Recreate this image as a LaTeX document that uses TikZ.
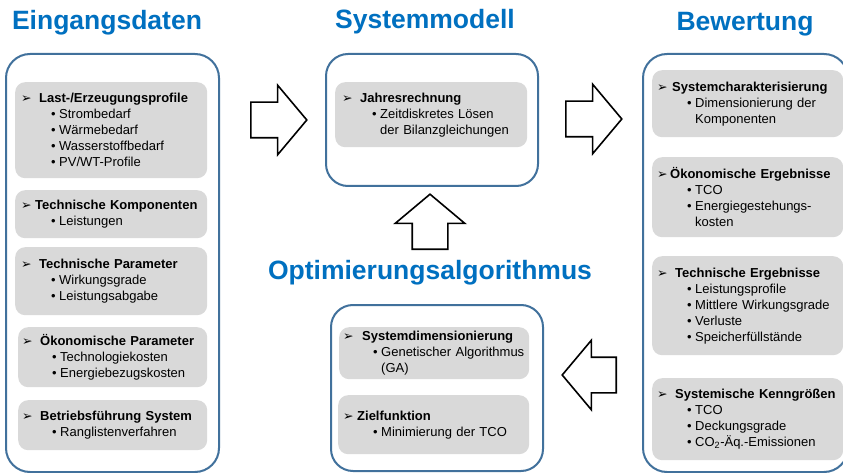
\documentclass[tikz,border=0pt]{standalone}
\usepackage{fontspec}
\setmainfont{Liberation Sans}
\newfontfamily\symfont{DejaVu Sans}
\usetikzlibrary{shapes.arrows}

\definecolor{titleblue}{RGB}{0,112,192}
\definecolor{frameblue}{RGB}{65,113,156}
\definecolor{boxgray}{RGB}{217,217,217}

% header line with arrow mark, bullet line, continued line
\newcommand{\hd}[2][18pt]{\makebox[#1][l]{\symfont\fontsize{12.5}{10}\selectfont ➢}\mbox{\textbf{#2}}}
\newcommand{\itm}[1]{\\\hspace*{30pt}\makebox[8pt][l]{•}\mbox{#1}}
\newcommand{\cnt}[1]{\\\hspace*{38pt}\mbox{#1}}

\begin{document}
\begin{tikzpicture}[x=1pt,y=-1pt,
    title/.style={text=titleblue,font=\fontsize{26.5}{30}\selectfont\bfseries,anchor=base},
    frame/.style={draw=frameblue,line width=2pt,fill=white,rounded corners=24pt,anchor=north west},
    graybox/.style={fill=boxgray,rounded corners=10pt,anchor=north west,inner xsep=6pt,inner ysep=0pt,
      align=left,font=\fontsize{13}{16}\selectfont},
    blockarrow/.style={single arrow,draw,line width=1.6pt,fill=white,inner xsep=0pt,inner ysep=17pt,
      minimum height=56pt,single arrow head extend=17pt,single arrow tip angle=100,anchor=tail}]
  \path[use as bounding box,fill=white] (0,0) rectangle (843,473);

  % titles
  \node[title] (tin) at (107,30) {Eingangsdaten};
  \node[title] (tsys) at (425,29) {Systemmodell};
  \node[title] (tbew) at (745,31) {Bewertung};
  \node[title] (topt) at (430,279) {Optimierungsalgorithmus};

  % outer frames
  \node[frame,minimum width=213pt,minimum height=418pt] (fin) at (5,53) {};
  \node[frame,rounded corners=22pt,minimum width=212pt,minimum height=132pt] (fsys) at (325,53) {};
  \node[frame,rounded corners=22pt,minimum width=212pt,minimum height=166pt] (fopt) at (330,304) {};
  \node[frame,minimum width=205pt,minimum height=418pt] (fbew) at (642,53) {};

  % eingangsdaten
  \node[graybox,minimum width=192pt,minimum height=96pt,text width=180pt,inner xsep=6pt] (last) at (15,82)
    {\hd{Last-/Erzeugungsprofile}\itm{Strombedarf}\itm{Wärmebedarf}\itm{Wasserstoffbedarf}\itm{PV/WT-Profile}};
  \node[graybox,minimum width=192pt,minimum height=48pt,text width=180pt] (komp) at (15,190)
    {\hd[14pt]{Technische Komponenten}\itm{Leistungen}};
  \node[graybox,minimum width=192pt,minimum height=68pt,text width=180pt] (tpar) at (15,247)
    {\hd{Technische Parameter}\itm{Wirkungsgrade}\itm{Leistungsabgabe}};
  \node[graybox,minimum width=189pt,minimum height=60pt,text width=181pt,inner xsep=4pt] (opar) at (18,327)
    {\hd{Ökonomische Parameter}\itm{Technologiekosten}\itm{Energiebezugskosten}};
  \node[graybox,minimum width=189pt,minimum height=50pt,text width=181pt,inner xsep=4pt] (betr) at (18,400)
    {\hd{Betriebsführung System}\itm{Ranglistenverfahren}};

  % systemmodell
  \node[graybox,minimum width=192pt,minimum height=65pt,text width=178pt,inner xsep=7pt] (jahr) at (335,82)
    {\hd{Jahresrechnung}\itm{Zeitdiskretes Lösen}\cnt{der Bilanzgleichungen}};

  % optimierung
  \node[graybox,minimum width=190pt,minimum height=52pt,text width=182pt,inner xsep=4pt] (dim) at (339,327)
    {\hd[19pt]{Systemdimensionierung}\itm{Genetischer Algorithmus}\cnt{(GA)}};
  \node[graybox,minimum width=191pt,minimum height=59pt,text width=181pt,inner xsep=5pt] (ziel) at (338,395)
    {\hd[14pt]{Zielfunktion}\itm{Minimierung der TCO}};

  % bewertung
  \node[graybox,minimum width=191pt,minimum height=67pt,text width=181pt,inner xsep=5pt] (char) at (652,70)
    {\hd[15pt]{Systemcharakterisierung}\itm{Dimensionierung der}\cnt{Komponenten}};
  \node[graybox,minimum width=191pt,minimum height=80pt,text width=181pt,inner xsep=5pt] (oerg) at (652,157)
    {\hd[13pt]{Ökonomische Ergebnisse}\itm{TCO}\itm{Energiegestehungs-}\cnt{kosten}};
  \node[graybox,minimum width=191pt,minimum height=99pt,text width=181pt,inner xsep=5pt] (terg) at (652,256)
    {\hd{Technische Ergebnisse}\itm{Leistungsprofile}\itm{Mittlere Wirkungsgrade}\itm{Verluste}\itm{Speicherfüllstände}};
  \node[graybox,minimum width=191pt,minimum height=82pt,text width=181pt,inner xsep=5pt] (kenn) at (652,378)
    {\hd{Systemische Kenngrößen}\itm{TCO}\itm{Deckungsgrade}\itm{CO\textsubscript{2}-Äq.-Emissionen}};

  % block arrows
  \node[blockarrow] (a1) at (250,120) {};
  \node[blockarrow] (a2) at (565,119) {};
  \node[blockarrow,shape border rotate=90,inner xsep=17pt,inner ysep=0pt,minimum height=55pt] (a3) at (430,250) {};
  \node[blockarrow,shape border rotate=180,minimum height=54pt] (a4) at (617,375) {};
\end{tikzpicture}
\end{document}
